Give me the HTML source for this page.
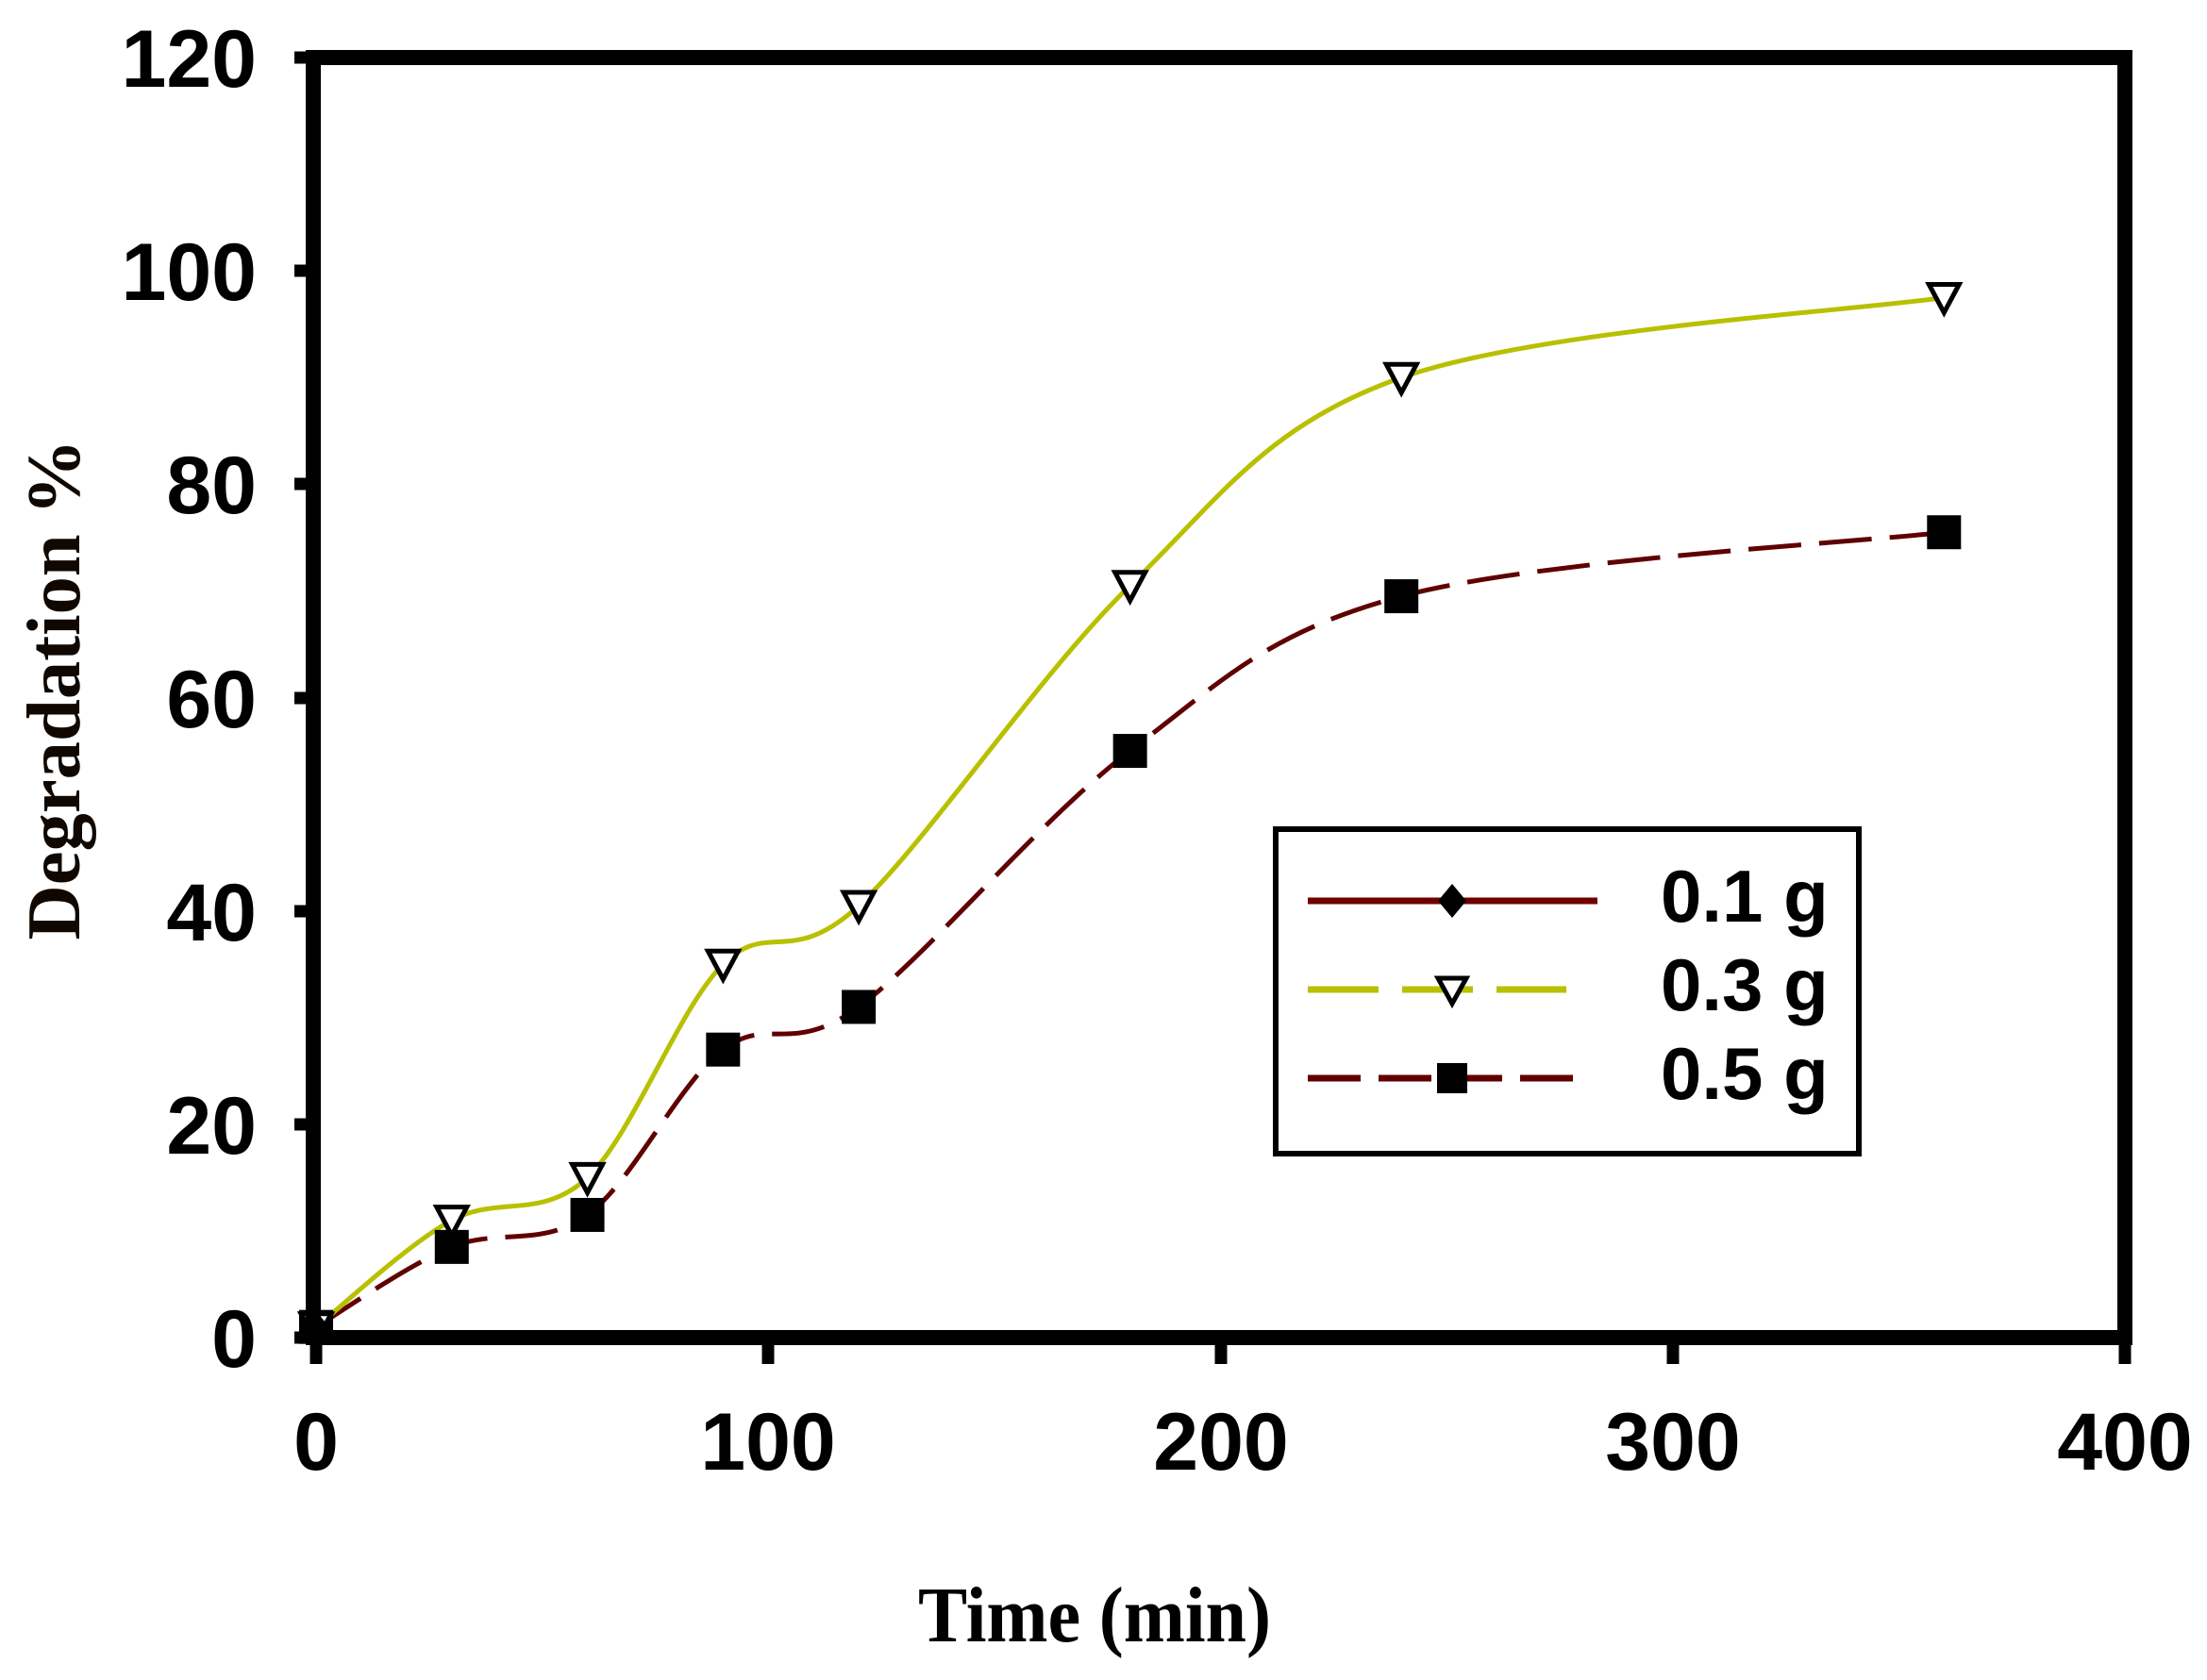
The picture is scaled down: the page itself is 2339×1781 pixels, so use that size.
<!DOCTYPE html>
<html><head><meta charset="utf-8"><style>html,body{margin:0;padding:0;background:#fff}svg{display:block}</style></head>
<body>
<svg id="s" width="2339" height="1781" viewBox="0 0 2339 1781" xmlns="http://www.w3.org/2000/svg">
<rect width="2339" height="1781" fill="#fff"/>
<g id="curves"></g>
<rect x="332" y="61" width="1920" height="1357" fill="none" stroke="#000" stroke-width="16"/>
<g stroke="#000" stroke-width="13">
<line x1="312" y1="61" x2="332" y2="61"/><line x1="312" y1="287" x2="332" y2="287"/><line x1="312" y1="513" x2="332" y2="513"/><line x1="312" y1="740" x2="332" y2="740"/><line x1="312" y1="966" x2="332" y2="966"/><line x1="312" y1="1192" x2="332" y2="1192"/><line x1="312" y1="1418" x2="332" y2="1418"/>
<line x1="335" y1="1418" x2="335" y2="1446"/><line x1="814" y1="1418" x2="814" y2="1446"/><line x1="1294" y1="1418" x2="1294" y2="1446"/><line x1="1773" y1="1418" x2="1773" y2="1446"/><line x1="2252" y1="1418" x2="2252" y2="1446"/>
</g>
<g font-family="Liberation Sans, sans-serif" font-weight="bold" font-size="86" fill="#000" text-anchor="end">
<text x="272" y="92">120</text><text x="272" y="318">100</text><text x="272" y="544">80</text><text x="272" y="771">60</text><text x="272" y="997">40</text><text x="272" y="1223">20</text><text x="272" y="1449">0</text>
</g>
<g font-family="Liberation Sans, sans-serif" font-weight="bold" font-size="86" fill="#000" text-anchor="middle">
<text x="335" y="1558">0</text><text x="814" y="1558">100</text><text x="1294" y="1558">200</text><text x="1773" y="1558">300</text><text x="2252" y="1558">400</text>
</g>
<text x="1160" y="1740" font-family="Liberation Serif, serif" font-weight="bold" font-size="84" text-anchor="middle" textLength="374" lengthAdjust="spacingAndGlyphs">Time (min)</text>
<text transform="translate(84,731) rotate(-90)" font-family="Liberation Serif, serif" font-weight="bold" font-size="80" text-anchor="middle" textLength="531" lengthAdjust="spacingAndGlyphs" fill="#100800">Degradation %</text>
<rect x="1352" y="879" width="618" height="344" fill="#fff" stroke="#000" stroke-width="6"/>
<line x1="1386" y1="955" x2="1693" y2="955" stroke="#700000" stroke-width="7"/>
<path d="M1539 937 L1554 955 L1539 973 L1524 955Z" fill="#000"/>
<line x1="1386" y1="1049" x2="1660" y2="1049" stroke="#b8c000" stroke-width="7" stroke-dasharray="75 25"/>
<path d="M1524 1037 L1554 1037 L1539 1064Z" fill="#fff" stroke="#000" stroke-width="5"/>
<line x1="1386" y1="1143" x2="1675" y2="1143" stroke="#600000" stroke-width="7" stroke-dasharray="56 19"/>
<rect x="1523" y="1127" width="32" height="32" fill="#000"/>
<g font-family="Liberation Sans, sans-serif" font-weight="bold" font-size="78" fill="#000">
<text x="1760" y="977">0.1 g</text><text x="1760" y="1071">0.3 g</text><text x="1760" y="1165">0.5 g</text>
</g>
</svg>
<script>
(function(){
var X=function(t){return 335+t*4.7925},Y=function(v){return 1418-v*11.308};
function path(d){var p=d.map(function(a){return [X(a[0]),Y(a[1])]});var s="M"+p[0][0]+" "+p[0][1];
for(var i=0;i<p.length-1;i++){var p0=p[i-1]||p[i],p1=p[i],p2=p[i+1],p3=p[i+2]||p2;
var c1=[p1[0]+(p2[0]-p0[0])/6,p1[1]+(p2[1]-p0[1])/6],c2=[p2[0]-(p3[0]-p1[0])/6,p2[1]-(p3[1]-p1[1])/6];
s+=" C"+c1+" "+c2+" "+p2;}return s;}
var a=[[0,1],[30,11],[60,15],[90,35],[120,40.5],[180,70.5],[240,90],[360,97.5]];
var b=[[0,1],[30,8.5],[60,11.5],[90,27],[120,31],[180,55],[240,69.5],[360,75.5]];
var g=document.getElementById("curves"),h="";
h+='<path d="'+path(b)+'" fill="none" stroke="#600000" stroke-width="5" stroke-dasharray="56 19"/>';
h+='<path d="'+path(a)+'" fill="none" stroke="#b8c000" stroke-width="5"/>';
b.forEach(function(q){h+='<rect x="'+(X(q[0])-18)+'" y="'+(Y(q[1])-18)+'" width="36" height="36" fill="#000"/>';});
a.forEach(function(q){var x=X(q[0]),y=Y(q[1]);h+='<path d="M'+(x-16)+' '+(y-14)+' L'+(x+16)+' '+(y-14)+' L'+x+' '+(y+16)+'Z" fill="#fff" stroke="#000" stroke-width="5"/>';});
h+='<path d="M335 1390 L350 1408 L335 1426 L320 1408Z" fill="#000"/>';
g.innerHTML=h;
})();
</script>
</body></html>
